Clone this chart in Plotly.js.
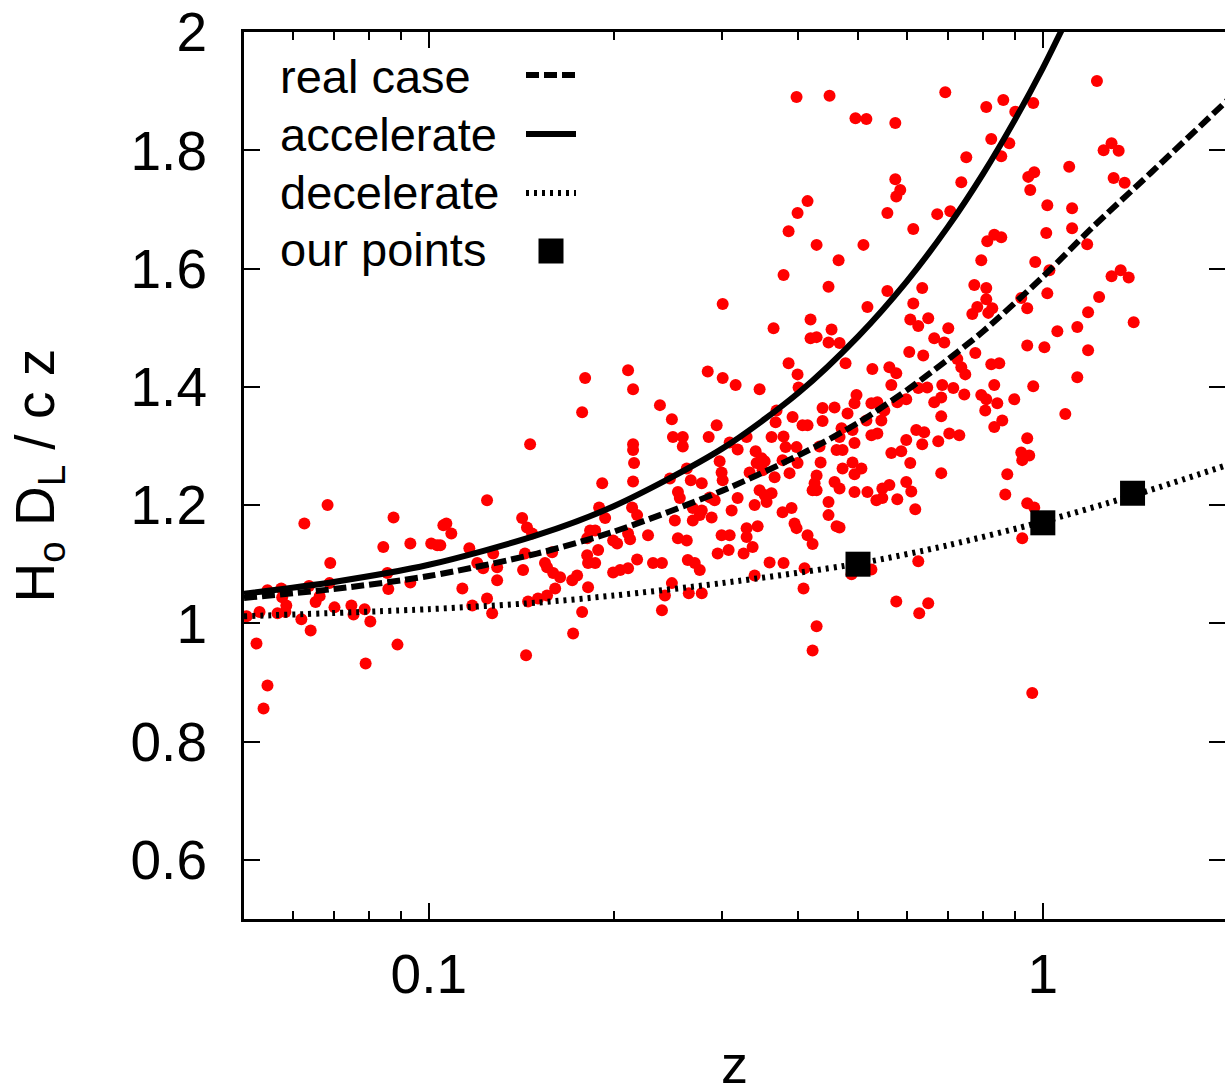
<!DOCTYPE html>
<html>
<head>
<meta charset="utf-8">
<script src="https://cdn.plot.ly/plotly-3.0.1.min.js"></script>
<style>html,body{margin:0;padding:0;background:#fff}#chart{width:1225px;height:1091px}</style>
</head>
<body>
<div id="chart"></div>
<script>
// ---- data ----
const xTickVals = [0.1, 1];
const xTickText = ["0.1", "1"];
const xMinorTicks = [0.06,0.07,0.08,0.09,0.2,0.3,0.4,0.5,0.6,0.7,0.8,0.9];
const yTickVals = [0.6, 0.8, 1.0, 1.2, 1.4, 1.6, 1.8, 2.0];
const yTickText = ["0.6", "0.8", "1", "1.2", "1.4", "1.6", "1.8", "2"];

const legendNames = ["real case", "accelerate", "decelerate", "our points"];

// supernova-like scatter points [z, H0 DL / c z]
const redPoints = [
[0.0684,1.200],[0.0627,1.169],[0.0876,1.179],[0.1056,1.166],[0.0843,1.129],[0.0933,1.135],[0.1009,1.135],[0.1032,1.132],[0.0691,1.102],[0.0856,1.085],[0.0859,1.058],[0.0933,1.069],[0.0546,1.056],[0.0575,1.059],[0.0638,1.063],[0.0689,1.068],[0.0664,1.046],[0.0654,1.036],[0.0586,1.030],[0.0530,1.019],[0.0567,1.017],[0.0584,1.019],[0.0505,1.012],[0.0702,1.027],[0.0748,1.030],[0.0754,1.015],[0.0786,1.024],[0.0803,1.003],[0.0620,1.007],[0.0642,0.988],[0.0524,0.966],[0.0889,0.964],[0.0789,0.932],[0.0546,0.895],[0.0538,0.856],[0.0577,1.044],
[0.1797,1.415],[0.2111,1.428],[0.2151,1.396],[0.2379,1.369],[0.1777,1.357],[0.1462,1.303],[0.2151,1.303],[0.2151,1.293],[0.2159,1.271],[0.1916,1.237],[0.2151,1.240],[0.1244,1.208],[0.1894,1.196],[0.1937,1.178],[0.2143,1.196],[0.2184,1.183],[0.1068,1.169],[0.1088,1.152],[0.1044,1.132],[0.1419,1.178],[0.1445,1.162],[0.1473,1.152],[0.1831,1.157],[0.1866,1.157],[0.1811,1.144],[0.2111,1.152],[0.2127,1.142],[0.2275,1.149],[0.1996,1.140],[0.2026,1.135],[0.1164,1.127],[0.1273,1.118],[0.1434,1.118],[0.1588,1.120],[0.1887,1.124],[0.1811,1.115],[0.1817,1.102],[0.1866,1.102],[0.2184,1.108],[0.2318,1.102],[0.1199,1.102],[0.1226,1.093],[0.1292,1.095],[0.1546,1.102],[0.1558,1.095],[0.1424,1.090],[0.1594,1.085],[0.1636,1.078],[0.1712,1.073],[0.1744,1.081],[0.1996,1.086],[0.2049,1.090],[0.2111,1.093],[0.1292,1.073],[0.1134,1.059],[0.1606,1.059],[0.1817,1.061],[0.1558,1.047],[0.1506,1.042],[0.1451,1.037],[0.1244,1.042],[0.1177,1.030],[0.1268,1.017],[0.1777,1.019],[0.2397,1.022],[0.1718,0.983],[0.1440,0.946],
[0.4138,1.714],[0.3986,1.694],[0.3854,1.663],[0.4281,1.640],[0.4649,1.614],[0.3782,1.589],[0.4477,1.569],[0.3010,1.540],[0.4185,1.514],[0.3643,1.499],[0.4528,1.497],[0.4185,1.482],[0.4281,1.484],[0.4477,1.475],[0.4666,1.474],[0.4772,1.440],[0.3854,1.440],[0.3986,1.421],[0.2846,1.426],[0.3010,1.415],[0.3160,1.403],[0.3457,1.396],[0.4001,1.399],[0.2488,1.345],[0.3684,1.360],[0.3912,1.349],[0.4378,1.364],[0.4579,1.365],[0.4378,1.342],
[0.2498,1.315],[0.2592,1.315],[0.2592,1.299],[0.2943,1.335],[0.2856,1.315],[0.3090,1.306],[0.3184,1.294],[0.3293,1.315],[0.3671,1.340],[0.4061,1.335],[0.4138,1.335],[0.4701,1.330],[0.3616,1.315],[0.3782,1.316],[0.3811,1.298],[0.3971,1.298],[0.4329,1.299],[0.4614,1.293],[0.4719,1.293],[0.3406,1.291],[0.2976,1.274],[0.2631,1.262],[0.2470,1.245],[0.2998,1.255],[0.3010,1.242],[0.2671,1.242],[0.2783,1.237],[0.3419,1.271],[0.3483,1.279],[0.3523,1.274],[0.3768,1.276],[0.3986,1.271],[0.4346,1.272],[0.3330,1.255],[0.3496,1.259],[0.3657,1.247],[0.3868,1.254],[0.4719,1.262],[0.4281,1.250],[0.4249,1.237],[0.4217,1.225],[0.4281,1.225],[0.4579,1.239],[0.4666,1.228],[0.2545,1.222],[0.2563,1.212],[0.2867,1.213],[0.2921,1.208],[0.3184,1.212],[0.3457,1.225],[0.3523,1.217],[0.3616,1.220],[0.3549,1.205],[0.3393,1.200],[0.3113,1.191],[0.2691,1.195],[0.2783,1.191],[0.2762,1.183],[0.2516,1.174],[0.2691,1.174],[0.2888,1.179],[0.3768,1.188],[0.3897,1.195],[0.4477,1.205],[0.4477,1.183],[0.3941,1.169],[0.3971,1.161],[0.4614,1.164],[0.2545,1.144],[0.2631,1.140],[0.2998,1.149],[0.3090,1.149],[0.3293,1.161],[0.3432,1.164],[0.3293,1.146],[0.3368,1.129],[0.4138,1.149],[0.4217,1.134],[0.2954,1.118],[0.3078,1.124],[0.3256,1.118],[0.2397,1.102],[0.2641,1.107],[0.2711,1.102],[0.2762,1.090],[0.3589,1.103],[0.3782,1.102],[0.4092,1.093],[0.3393,1.081],[0.2488,1.068],[0.2424,1.047],[0.2651,1.051],[0.2783,1.051],[0.4076,1.059],[0.4281,0.995],[0.4217,0.954],[0.3971,1.890],[0.4494,1.892],
[0.6936,1.898],[0.4953,1.854],[0.5160,1.853],[0.5751,1.846],[0.8089,1.873],[0.8622,1.885],[0.9018,1.865],[0.9647,1.880],[0.8242,1.819],[0.8818,1.812],[0.8557,1.790],[0.7505,1.788],[0.9468,1.755],[0.9683,1.763],[0.9539,1.733],[0.5751,1.751],[0.5859,1.733],[0.5772,1.722],[0.7366,1.746],[0.5582,1.694],[0.6730,1.692],[0.7068,1.697],[0.6152,1.667],[0.5103,1.640],[0.8119,1.646],[0.8335,1.657],[0.8557,1.653],[0.7939,1.614],[0.9720,1.611],[0.5582,1.562],[0.6362,1.567],[0.5180,1.535],[0.6152,1.541],[0.6083,1.514],[0.6268,1.503],[0.6507,1.516],[0.7734,1.572],[0.8089,1.567],[0.8089,1.548],[0.7821,1.535],[0.7676,1.523],[0.8150,1.525],[0.8273,1.533],[0.9223,1.550],[0.9432,1.533],[0.7015,1.499],[0.6655,1.482],[0.6910,1.475],[0.6060,1.459],[0.6386,1.453],[0.7763,1.457],[0.9432,1.470],[0.5277,1.430],[0.5624,1.433],[0.5772,1.423],[0.7256,1.447],[0.7366,1.433],[0.7477,1.421],[0.8242,1.438],[0.8493,1.440],
[0.8335,1.403],[0.9647,1.401],[0.5666,1.403],[0.6268,1.398],[0.6482,1.399],[0.6858,1.403],[0.7148,1.398],[0.6655,1.374],[0.6832,1.382],[0.7449,1.387],[0.7939,1.386],[0.8089,1.379],[0.8430,1.372],[0.8984,1.379],[0.8058,1.360],[0.8589,1.343],[0.8335,1.332],[0.4972,1.386],[0.4935,1.372],[0.5258,1.372],[0.5377,1.374],[0.5519,1.360],[0.5458,1.343],[0.5160,1.343],[0.4808,1.355],[0.5992,1.379],[0.5794,1.374],[0.6832,1.350],[0.4898,1.327],[0.4666,1.315],[0.5258,1.318],[0.5377,1.321],[0.6221,1.327],[0.6410,1.323],[0.7041,1.321],[0.7311,1.318],[0.5992,1.310],[0.6362,1.303],[0.6756,1.308],[0.5666,1.288],[0.5881,1.291],[0.4935,1.305],[0.9432,1.313],[0.9223,1.289],[0.9503,1.284],[0.9257,1.276],[0.4898,1.272],[0.5065,1.262],[0.4935,1.252],[0.6083,1.271],[0.6832,1.254],[0.8752,1.252],[0.5624,1.234],[0.5478,1.228],[0.5357,1.208],[0.5478,1.212],[0.5794,1.210],[0.5992,1.239],[0.6106,1.223],[0.4935,1.222],[0.5180,1.222],[0.8687,1.218],[0.6198,1.193],[0.9432,1.203],[0.9683,1.196],[0.4666,1.162],[0.9257,1.144],[0.6268,1.105],[0.5258,1.091],[0.4880,1.083],[0.5772,1.037],[0.6507,1.034],[0.6291,1.017],[0.9611,0.882],
[1.225,1.917],[1.294,1.812],[1.256,1.800],[1.329,1.799],[1.104,1.772],[1.304,1.753],[1.359,1.745],[1.017,1.707],[1.116,1.702],[1.116,1.668],[1.013,1.660],[1.181,1.641],[1.025,1.597],[1.294,1.587],[1.339,1.597],[1.380,1.585],[1.017,1.558],[1.235,1.552],[1.185,1.526],[1.138,1.501],[1.056,1.494],[1.406,1.509],[1.006,1.467],[1.185,1.462],[1.138,1.416],[1.088,1.354]
];

// model curves
const zReal = [0.05, 0.07, 0.1, 0.15, 0.2, 0.3, 0.4, 0.5, 0.6, 0.7, 0.8, 1.0, 1.2, 1.5, 2.0];
const yReal = [1.043, 1.058, 1.080, 1.118, 1.155, 1.224, 1.284, 1.339, 1.394, 1.446, 1.494, 1.586, 1.668, 1.762, 1.885];

const zAccel = [0.05, 0.07, 0.1, 0.15, 0.2, 0.3, 0.4, 0.5, 0.6, 0.7, 0.8, 0.9, 1.0, 1.1];
const yAccel = [1.050, 1.070, 1.099, 1.149, 1.198, 1.295, 1.390, 1.485, 1.578, 1.670, 1.761, 1.851, 1.939, 2.026];

const zDecel = [0.05, 0.1, 0.15, 0.2, 0.3, 0.5, 0.7, 1.0, 1.4, 2.0];
const yDecel = [1.012, 1.024, 1.035, 1.047, 1.068, 1.101, 1.132, 1.172, 1.216, 1.268];

// "our points"
const zOurs = [0.5, 1.0, 1.4];
const yOurs = [1.10, 1.17, 1.22];

// ---- drawing ----
const FONT = "Liberation Sans, Arial, Helvetica, sans-serif";

const traces = [
  {x: redPoints.map(p => p[0]), y: redPoints.map(p => p[1]), type: "scatter", mode: "markers",
   marker: {color: "#ff0000", size: 12, line: {width: 0}}, showlegend: false, hoverinfo: "skip"},
  {x: zReal, y: yReal, type: "scatter", mode: "lines", name: legendNames[0],
   line: {color: "#000", width: 6, dash: "13px,5px", shape: "spline", smoothing: 0.8}, showlegend: false},
  {x: zAccel, y: yAccel, type: "scatter", mode: "lines", name: legendNames[1],
   line: {color: "#000", width: 6, shape: "spline", smoothing: 0.8}, showlegend: false},
  {x: zDecel, y: yDecel, type: "scatter", mode: "lines", name: legendNames[2],
   line: {color: "#000", width: 6, dash: "3px,5px", shape: "spline", smoothing: 0.8}, showlegend: false},
  {x: zOurs, y: yOurs, type: "scatter", mode: "markers", name: legendNames[3],
   marker: {color: "#000", size: 25, symbol: "square", line: {width: 0}}, showlegend: false}
];

const plotW = 981, plotH = 887;
const legendTextY = [44, 102, 160, 218];
const legendSymY = [43, 102, 161, 219];

const annotations = legendNames.map((n, i) => ({
  text: n, xref: "paper", yref: "paper", x: 34 / plotW, y: 1 - legendTextY[i] / plotH,
  xanchor: "left", yanchor: "middle", showarrow: false, font: {family: FONT, size: 47, color: "#000"}
}));
annotations.push({
  text: "H<sub>o</sub> D<sub>L</sub> / c z", xref: "paper", yref: "paper", x: 0, y: 0.5,
  xshift: -206, xanchor: "center", yanchor: "middle", textangle: -90, showarrow: false,
  font: {family: FONT, size: 55, color: "#000"}
});
annotations.push({
  text: "z", xref: "paper", yref: "paper", x: 0.5, y: 0, yshift: -113,
  xanchor: "center", yanchor: "top", showarrow: false, font: {family: FONT, size: 54, color: "#000"}
});

const lx0 = 282 / plotW, lx1 = 332 / plotW;
const shapes = [
  {type: "line", xref: "paper", yref: "paper", x0: lx0, x1: lx1, y0: 1 - legendSymY[0] / plotH, y1: 1 - legendSymY[0] / plotH,
   line: {color: "#000", width: 6, dash: "13px,5px"}},
  {type: "line", xref: "paper", yref: "paper", x0: lx0, x1: lx1, y0: 1 - legendSymY[1] / plotH, y1: 1 - legendSymY[1] / plotH,
   line: {color: "#000", width: 6}},
  {type: "line", xref: "paper", yref: "paper", x0: lx0, x1: lx1, y0: 1 - legendSymY[2] / plotH, y1: 1 - legendSymY[2] / plotH,
   line: {color: "#000", width: 6, dash: "3px,5px"}},
  {type: "rect", xref: "paper", yref: "paper", x0: (307 - 12.5) / plotW, x1: (307 + 12.5) / plotW,
   y0: 1 - (legendSymY[3] + 12.5) / plotH, y1: 1 - (legendSymY[3] - 12.5) / plotH,
   fillcolor: "#000", line: {width: 0}}
];

const layout = {
  width: 1225, height: 1091,
  margin: {l: 244, r: 0, t: 32, b: 172, autoexpand: false},
  paper_bgcolor: "#fff", plot_bgcolor: "#fff",
  showlegend: false,
  font: {family: FONT, color: "#000"},
  xaxis: {
    type: "log", range: [-1.30103, 0.2967], autorange: false,
    tickmode: "array", tickvals: xTickVals, ticktext: xTickText,
    ticks: "inside", ticklen: 16, tickwidth: 2, tickcolor: "#000",
    minor: {tickmode: "array", tickvals: xMinorTicks, ticks: "inside", ticklen: 8, tickwidth: 2, tickcolor: "#000", showgrid: false},
    showline: true, linewidth: 3, linecolor: "#000", mirror: "allticks",
    showgrid: false, zeroline: false,
    tickfont: {family: FONT, size: 55, color: "#000"}, ticklabelstandoff: 5
  },
  yaxis: {
    range: [0.5, 2.0], autorange: false,
    tickmode: "array", tickvals: yTickVals, ticktext: yTickText,
    ticks: "inside", ticklen: 16, tickwidth: 2, tickcolor: "#000",
    showline: true, linewidth: 3, linecolor: "#000", mirror: "allticks",
    showgrid: false, zeroline: false,
    tickfont: {family: FONT, size: 55, color: "#000"}, ticklabelstandoff: 23
  },
  annotations: annotations,
  shapes: shapes
};

Plotly.newPlot("chart", traces, layout, {staticPlot: true, displayModeBar: false});
</script>
</body>
</html>
